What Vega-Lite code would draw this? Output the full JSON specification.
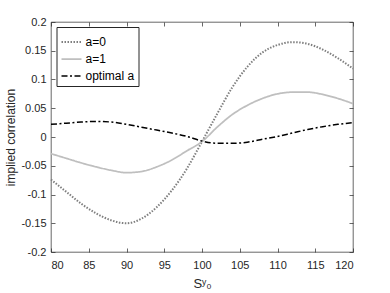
{
  "$schema": "https://vega.github.io/schema/vega-lite/v6.json",
  "width": 302,
  "height": 230,
  "autosize": "none",
  "padding": {"left": 51, "top": 22, "right": 37, "bottom": 41},
  "config": {
    "font": "Liberation Sans",
    "view": {"stroke": "#262626", "strokeWidth": 0.7},
    "axis": {
      "grid": false,
      "domain": false,
      "tickColor": "#262626",
      "tickSize": -4,
      "tickWidth": 0.7,
      "labelColor": "#262626",
      "labelFontSize": 11,
      "titleColor": "#262626",
      "titleFontSize": 12,
      "titleFontWeight": "normal"
    }
  },
  "data": {
    "values": [
      {"x": 80, "y": -0.074, "series": "a=0"},
      {"x": 82, "y": -0.095, "series": "a=0"},
      {"x": 84, "y": -0.116, "series": "a=0"},
      {"x": 86, "y": -0.133, "series": "a=0"},
      {"x": 88, "y": -0.145, "series": "a=0"},
      {"x": 90, "y": -0.150, "series": "a=0"},
      {"x": 92, "y": -0.142, "series": "a=0"},
      {"x": 94, "y": -0.122, "series": "a=0"},
      {"x": 96, "y": -0.093, "series": "a=0"},
      {"x": 98, "y": -0.055, "series": "a=0"},
      {"x": 100, "y": -0.008, "series": "a=0"},
      {"x": 102, "y": 0.040, "series": "a=0"},
      {"x": 104, "y": 0.086, "series": "a=0"},
      {"x": 106, "y": 0.122, "series": "a=0"},
      {"x": 108, "y": 0.147, "series": "a=0"},
      {"x": 110, "y": 0.160, "series": "a=0"},
      {"x": 112, "y": 0.165, "series": "a=0"},
      {"x": 114, "y": 0.162, "series": "a=0"},
      {"x": 116, "y": 0.152, "series": "a=0"},
      {"x": 118, "y": 0.137, "series": "a=0"},
      {"x": 120, "y": 0.119, "series": "a=0"},
      {"x": 80, "y": -0.029, "series": "a=1"},
      {"x": 82, "y": -0.037, "series": "a=1"},
      {"x": 84, "y": -0.045, "series": "a=1"},
      {"x": 86, "y": -0.052, "series": "a=1"},
      {"x": 88, "y": -0.058, "series": "a=1"},
      {"x": 90, "y": -0.062, "series": "a=1"},
      {"x": 92, "y": -0.060, "series": "a=1"},
      {"x": 94, "y": -0.052, "series": "a=1"},
      {"x": 96, "y": -0.040, "series": "a=1"},
      {"x": 98, "y": -0.024, "series": "a=1"},
      {"x": 100, "y": -0.008, "series": "a=1"},
      {"x": 102, "y": 0.017, "series": "a=1"},
      {"x": 104, "y": 0.039, "series": "a=1"},
      {"x": 106, "y": 0.055, "series": "a=1"},
      {"x": 108, "y": 0.067, "series": "a=1"},
      {"x": 110, "y": 0.075, "series": "a=1"},
      {"x": 112, "y": 0.078, "series": "a=1"},
      {"x": 114, "y": 0.078, "series": "a=1"},
      {"x": 116, "y": 0.074, "series": "a=1"},
      {"x": 118, "y": 0.067, "series": "a=1"},
      {"x": 120, "y": 0.058, "series": "a=1"},
      {"x": 80, "y": 0.022, "series": "optimal a"},
      {"x": 82, "y": 0.024, "series": "optimal a"},
      {"x": 84, "y": 0.026, "series": "optimal a"},
      {"x": 86, "y": 0.027, "series": "optimal a"},
      {"x": 88, "y": 0.026, "series": "optimal a"},
      {"x": 90, "y": 0.022, "series": "optimal a"},
      {"x": 92, "y": 0.017, "series": "optimal a"},
      {"x": 94, "y": 0.012, "series": "optimal a"},
      {"x": 96, "y": 0.007, "series": "optimal a"},
      {"x": 98, "y": 0.001, "series": "optimal a"},
      {"x": 100, "y": -0.007, "series": "optimal a"},
      {"x": 102, "y": -0.011, "series": "optimal a"},
      {"x": 104, "y": -0.011, "series": "optimal a"},
      {"x": 106, "y": -0.009, "series": "optimal a"},
      {"x": 108, "y": -0.004, "series": "optimal a"},
      {"x": 110, "y": 0.001, "series": "optimal a"},
      {"x": 112, "y": 0.007, "series": "optimal a"},
      {"x": 114, "y": 0.013, "series": "optimal a"},
      {"x": 116, "y": 0.018, "series": "optimal a"},
      {"x": 118, "y": 0.022, "series": "optimal a"},
      {"x": 120, "y": 0.025, "series": "optimal a"}
    ]
  },
  "layer": [
    {
      "mark": {"type": "line", "interpolate": "monotone"},
      "encoding": {
        "x": {
          "field": "x", "type": "quantitative",
          "scale": {"domain": [80, 120], "nice": false},
          "axis": {"orient": "bottom", "values": [80, 85, 90, 95, 100, 105, 110, 115, 120], "labelPadding": 11, "title": "Sʸ₀", "titlePadding": 7, "titleFontSize": 13}
        },
        "y": {
          "field": "y", "type": "quantitative",
          "scale": {"domain": [-0.2, 0.2], "nice": false},
          "axis": {
            "orient": "left",
            "values": [-0.2, -0.15, -0.1, -0.05, 0, 0.05, 0.1, 0.15, 0.2],
            "labelExpr": "datum.value < 0 ? '-' + format(-datum.value, '~g') : format(datum.value, '~g')",
            "labelPadding": 9,
            "title": "implied correlation",
            "titlePadding": 3
          }
        },
        "color": {
          "field": "series", "type": "nominal",
          "scale": {"domain": ["a=0", "a=1", "optimal a"], "range": ["#7f7f7f", "#bfbfbf", "#000000"]},
          "legend": {
            "title": null, "orient": "none", "legendX": 5.5, "legendY": 5,
            "symbolType": "stroke", "symbolSize": 400, "symbolStrokeWidth": 1.8,
            "labelFontSize": 12, "labelColor": "#000000",
            "strokeColor": "#262626", "fillColor": "white", "padding": 4, "rowPadding": 0, "labelOffset": 3
          }
        },
        "strokeDash": {
          "field": "series", "type": "nominal",
          "scale": {"domain": ["a=0", "a=1", "optimal a"], "range": [[1.5, 1.5], [1, 0], [6, 2.5, 2, 2.5]]},
          "legend": {
            "title": null, "orient": "none", "legendX": 5.5, "legendY": 5,
            "symbolType": "stroke", "symbolSize": 400, "symbolStrokeWidth": 1.8,
            "labelFontSize": 12, "labelColor": "#000000",
            "strokeColor": "#262626", "fillColor": "white", "padding": 4, "rowPadding": 0, "labelOffset": 3
          }
        },
        "strokeWidth": {
          "field": "series", "type": "nominal",
          "scale": {"domain": ["a=0", "a=1", "optimal a"], "range": [2, 1.5, 2]},
          "legend": null
        }
      }
    },
    {
      "mark": {"type": "line", "opacity": 0},
      "encoding": {
        "x": {
          "field": "x", "type": "quantitative",
          "scale": {"domain": [80, 120], "nice": false},
          "axis": {"orient": "top", "values": [80, 85, 90, 95, 100, 105, 110, 115, 120], "labels": false, "title": null}
        },
        "y": {
          "field": "y", "type": "quantitative",
          "scale": {"domain": [-0.2, 0.2], "nice": false},
          "axis": {"orient": "right", "values": [-0.2, -0.15, -0.1, -0.05, 0, 0.05, 0.1, 0.15, 0.2], "labels": false, "title": null}
        }
      }
    }
  ],
  "resolve": {"axis": {"x": "independent", "y": "independent"}}
}
